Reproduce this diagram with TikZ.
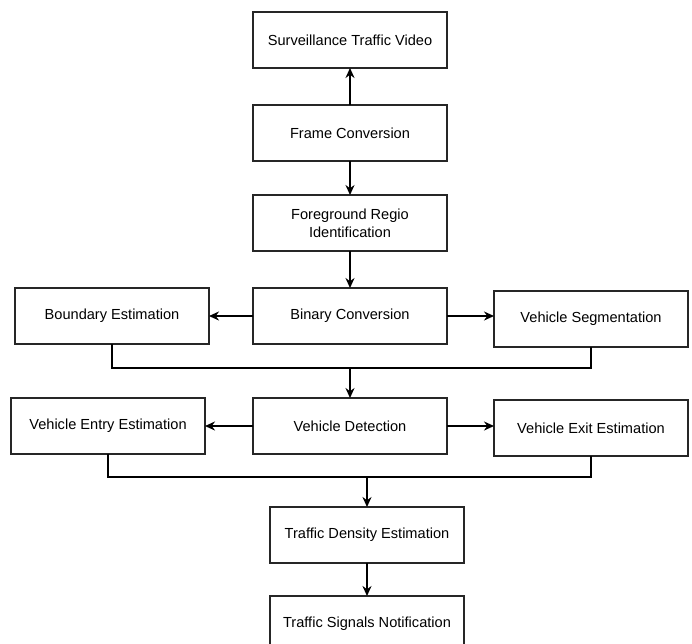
\documentclass[tikz,border=0pt]{standalone}
\usepackage{fontspec}
\setmainfont{Liberation Sans}
\usepackage{tikz}
\usetikzlibrary{shapes.geometric, arrows, arrows.meta, positioning}
\tikzstyle{process} = [
    rectangle, minimum width=3.88cm, minimum height=1.12cm, outer sep=0pt,
    text centered, align=center, draw=black!85, line width=1pt, fill=white
]
\tikzstyle{arrow} = [line width=1.1pt,->,>={Stealth[length=2mm,width=1.8mm]}]
\tikzstyle{bus} = [line width=0.8pt]

\begin{document}
\begin{tikzpicture}[
    font=\fontsize{8.3}{10.2}\selectfont
]
\useasboundingbox (0,0) rectangle (13.84,-12.86);

% Columna central (arriba)
\node (sur)  [process] at (7.0,-0.8)                     {Surveillance Traffic Video};
\node (frm)  [process, below=0.74cm of sur]              {Frame Conversion};
\node (fgr)  [process, below=0.68cm of frm]              {Foreground Regio \\ Identification};
\node (bin)  [process, below=0.74cm of fgr]              {Binary Conversion};

% Fila de binary
\node (bnd)  [process, left=0.88cm of bin]               {Boundary Estimation};
\node (seg)  [process, right=0.94cm of bin, yshift=-0.06cm] {Vehicle Segmentation};

% Fila de detection
\node (det)  [process, below=1.08cm of bin]              {Vehicle Detection};
\node (ent)  [process, left=0.96cm of det]               {Vehicle Entry Estimation};
\node (ext)  [process, right=0.94cm of det, yshift=-0.04cm] {Vehicle Exit Estimation};

% Columna central (abajo)
\node (dns)  [process, below=1.06cm of det, xshift=0.34cm] {Traffic Density Estimation};
\node (sig)  [process, below=0.66cm of dns]              {Traffic Signals Notification};

% Flechas
\draw [arrow] (frm) -- (sur);
\draw [arrow] (frm) -- (fgr);
\draw [arrow] (fgr) -- (bin);
\draw [arrow] (bin) -- (bnd);
\draw [arrow] (bin.east) -- (bin.east -| seg.west);

% Union 1
\draw [bus] (bnd.south) -- ++(0,-0.48) coordinate (u1) -| (seg.south);
\draw [arrow] (u1 -| det.north) -- (det.north);

\draw [arrow] (det) -- (ent);
\draw [arrow] (det.east) -- (det.east -| ext.west);

% Union 2
\draw [bus] (ent.south) -- ++(0,-0.46) coordinate (u2) -| (ext.south);
\draw [arrow] (u2 -| dns.north) -- (dns.north);

\draw [arrow] (dns) -- (sig);

\end{tikzpicture}
\end{document}
